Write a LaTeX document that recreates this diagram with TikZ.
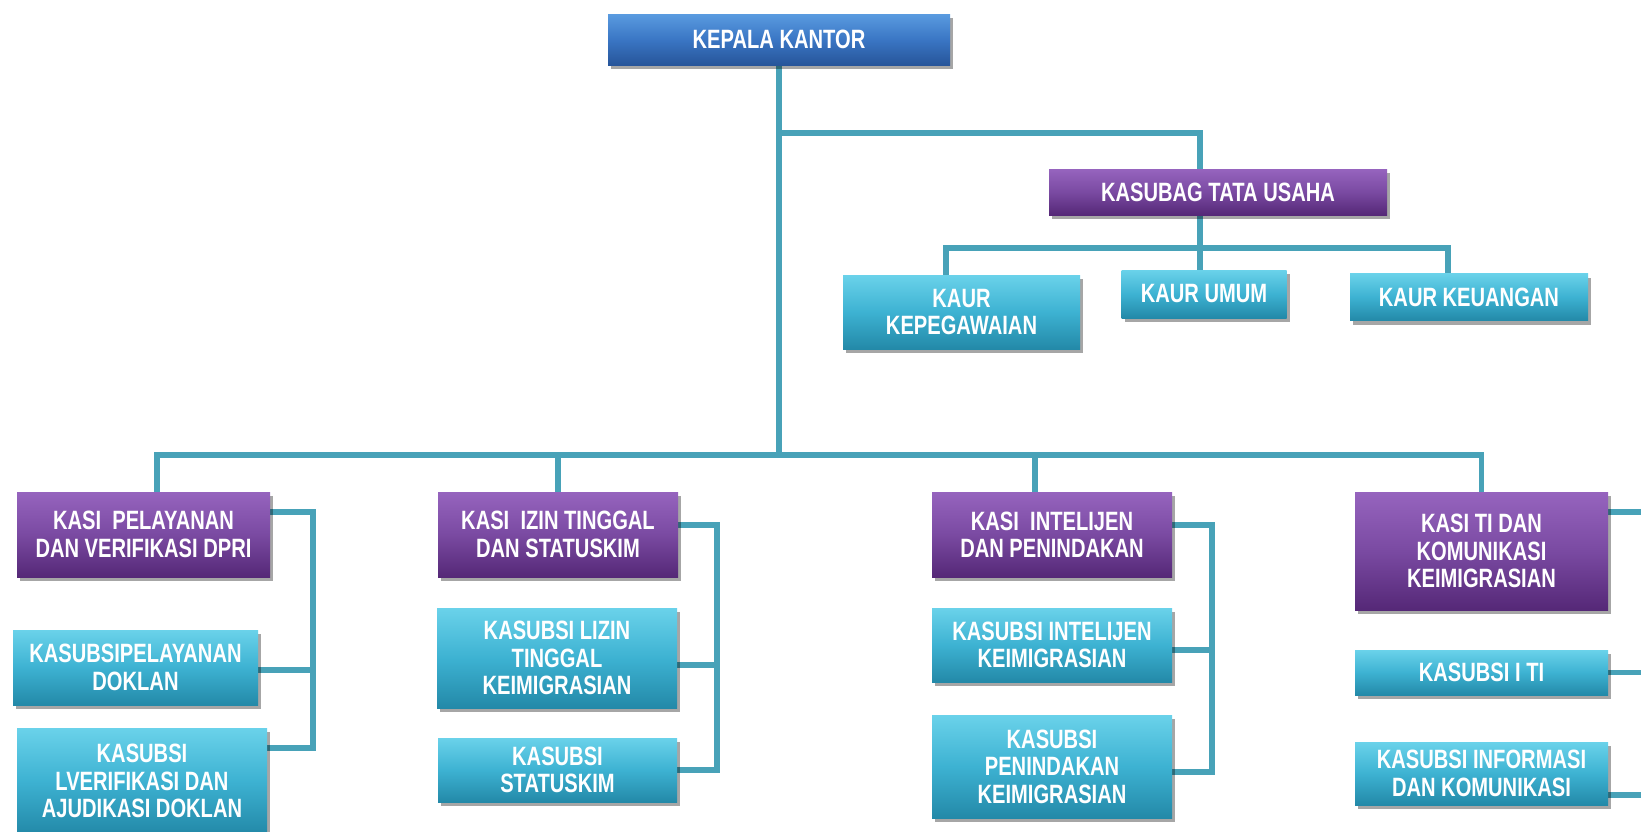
\documentclass[tikz,border=0pt]{standalone}
\usepackage{fontspec}
\newfontfamily\boxfont[FakeStretch=0.76]{Liberation Sans}
\usetikzlibrary{shadows,backgrounds}
\definecolor{linec}{HTML}{48A2B8}
\definecolor{blueT}{HTML}{5A9BE0}
\definecolor{blueM}{HTML}{3A76C4}
\definecolor{blueB}{HTML}{27559A}
\definecolor{purT}{HTML}{9664BE}
\definecolor{purM}{HTML}{7A4AA2}
\definecolor{purB}{HTML}{552877}
\definecolor{cyaT}{HTML}{6AD2EA}
\definecolor{cyaM}{HTML}{3DB2D2}
\definecolor{cyaB}{HTML}{2389A8}
\tikzset{
  boxbase/.style={rectangle, inner sep=0pt, align=center, text=white,
    font=\boxfont\bfseries\fontsize{26.5}{27.5}\selectfont,
    drop shadow={shadow xshift=3pt, shadow yshift=-4pt, opacity=0.35, fill=black}},
  bluebox/.style={boxbase, top color=blueT, bottom color=blueB, middle color=blueM},
  purbox/.style={boxbase, top color=purT, bottom color=purB, middle color=purM},
  cyabox/.style={boxbase, top color=cyaT, bottom color=cyaB, middle color=cyaM},
  conn/.style={draw=linec, line width=5.5pt, line join=miter}
}
\begin{document}
\begin{tikzpicture}[x=1pt, y=-1pt]
\useasboundingbox (0,0) rectangle (1641,831);

% junction coordinates
\coordinate (hub) at (779,455);
\coordinate (hub2) at (779,133);
\coordinate (hub3) at (1200,248);
\coordinate (b1) at (313,748);
\coordinate (b2) at (717,770);
\coordinate (b3) at (1212,772);
\coordinate (edge) at (1645,0);

% nodes
\node[bluebox, minimum width=342pt, minimum height=51pt] (kk) at (779,39.5) {KEPALA KANTOR};
\node[purbox, minimum width=338pt, minimum height=46pt] (ktu) at (1218,192) {KASUBAG TATA USAHA};
\node[cyabox, minimum width=237pt, minimum height=74pt] (kkep) at (961.5,312) {KAUR\\KEPEGAWAIAN};
\node[cyabox, minimum width=165pt, minimum height=48pt] (kum) at (1204,294) {KAUR UMUM};
\node[cyabox, minimum width=238pt, minimum height=47pt] (kkeu) at (1469,297) {KAUR KEUANGAN};

\node[purbox, minimum width=253pt, minimum height=85pt] (kp) at (143.5,534.5) {KASI\ \ PELAYANAN\\DAN VERIFIKASI DPRI};
\node[cyabox, minimum width=245pt, minimum height=75pt] (ksp) at (135.5,667.5) {KASUBSIPELAYANAN\\DOKLAN};
\node[cyabox, minimum width=250pt, minimum height=106pt] (ksv) at (142,781) {KASUBSI\\LVERIFIKASI DAN\\AJUDIKASI DOKLAN};

\node[purbox, minimum width=240pt, minimum height=85pt] (kit) at (558,534.5) {KASI\ \ IZIN TINGGAL\\DAN STATUSKIM};
\node[cyabox, minimum width=240pt, minimum height=100pt] (ksl) at (557,658) {KASUBSI LIZIN\\TINGGAL\\KEIMIGRASIAN};
\node[cyabox, minimum width=239pt, minimum height=64pt] (kss) at (557.5,770) {KASUBSI\\STATUSKIM};

\node[purbox, minimum width=240pt, minimum height=85pt] (kin) at (1052,534.5) {KASI\ \ INTELIJEN\\DAN PENINDAKAN};
\node[cyabox, minimum width=240pt, minimum height=74pt] (ksi) at (1052,645) {KASUBSI INTELIJEN\\KEIMIGRASIAN};
\node[cyabox, minimum width=240pt, minimum height=103pt] (kspn) at (1052,766.5) {KASUBSI\\PENINDAKAN\\KEIMIGRASIAN};

\node[purbox, minimum width=253pt, minimum height=118pt] (kti) at (1481.5,551) {KASI TI DAN\\KOMUNIKASI\\KEIMIGRASIAN};
\node[cyabox, minimum width=253pt, minimum height=45pt] (ksti) at (1481.5,672.5) {KASUBSI I TI};
\node[cyabox, minimum width=253pt, minimum height=63pt] (ksik) at (1481.5,773.5) {KASUBSI INFORMASI\\DAN KOMUNIKASI};

% connectors behind the boxes
\begin{scope}[on background layer]
\fill[white] (0,0) rectangle (1641,831);
\begin{scope}[conn]
\draw (kk.south) -- (hub);
\draw (hub2) -| ([xshift=-18pt]ktu.north);
\draw ([xshift=-18pt]ktu.south) -- ([xshift=-4pt]kum.north);
\draw ([xshift=-15.5pt]kkep.north) |- (hub3) -| ([xshift=-21pt]kkeu.north);
\draw ([xshift=13.5pt]kp.north) |- (hub) -| (kti.north);
\draw (kit.north) -- (kit.north |- hub);
\draw ([xshift=-17pt]kin.north) -- ([xshift=-17pt]kin.north |- hub);
% side brackets
\draw ([yshift=22.5pt]kp.east) -| (b1) -- ([yshift=33pt]ksv.east);
\draw ([yshift=-2.5pt]ksp.east) -- ([yshift=-2.5pt]ksp.east -| b1);
\draw ([yshift=9.5pt]kit.east) -| (b2) -- (kss.east);
\draw ([yshift=-7pt]ksl.east) -- ([yshift=-7pt]ksl.east -| b2);
\draw ([yshift=9.5pt]kin.east) -| (b3) -- ([yshift=-5.5pt]kspn.east);
\draw ([yshift=-5pt]ksi.east) -- ([yshift=-5pt]ksi.east -| b3);
\draw ([yshift=39pt]kti.east) -- ([yshift=39pt]kti.east -| edge);
\draw (ksti.east) -- (ksti.east -| edge);
\draw ([yshift=-21.5pt]ksik.east) -- ([yshift=-21.5pt]ksik.east -| edge);
\end{scope}
\end{scope}
\end{tikzpicture}
\end{document}
